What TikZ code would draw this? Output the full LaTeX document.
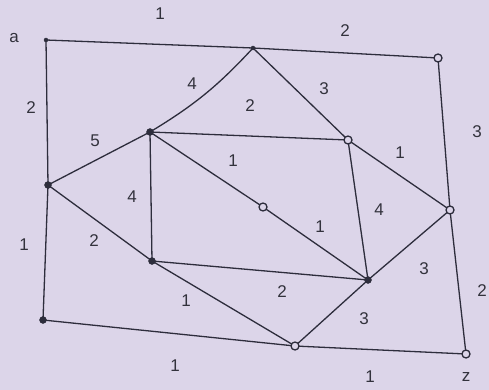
\documentclass[tikz,border=0pt]{standalone}
\usepackage{fontspec}
\setmainfont{Liberation Sans}
\begin{document}
\begin{tikzpicture}[x=1pt,y=-1pt,
  edge/.style={draw=linec,line width=1.3pt},
  full/.style={circle,fill=linec,draw=linec,inner sep=0pt,minimum size=7pt},
  small/.style={circle,fill=linec,draw=linec,inner sep=0pt,minimum size=4pt},
  hollow/.style={circle,draw=linec,fill=bg,line width=1.3pt,inner sep=0pt,minimum size=8pt},
  wt/.style={text=textc,font=\fontsize{17}{17}\selectfont}]
\definecolor{bg}{RGB}{220,213,233}
\definecolor{linec}{RGB}{45,45,60}
\definecolor{textc}{RGB}{50,50,60}
\fill[bg] (0,0) rectangle (489,390);
\useasboundingbox (0,0) rectangle (489,390);
% node positions
\coordinate (a)  at (46,40);
\coordinate (T)  at (253,48);
\coordinate (TR) at (438,58);
\coordinate (C1) at (150,132);
\coordinate (C2) at (348,140);
\coordinate (L)  at (48,185);
\coordinate (M)  at (263,207);
\coordinate (R)  at (450,210);
\coordinate (D1) at (152,261);
\coordinate (D2) at (368,280);
\coordinate (BL) at (43,320);
\coordinate (B)  at (295,346);
\coordinate (z)  at (466,354);
% edges
\draw[edge] (a) -- (T);
\draw[edge] (T) -- (TR);
\draw[edge] (a) -- (L);
\draw[edge] (T) to[bend left=8] (C1);
\draw[edge] (T) -- (C2);
\draw[edge] (C1) -- (C2);
\draw[edge] (TR) -- (R);
\draw[edge] (C2) -- (R);
\draw[edge] (C1) -- (L);
\draw[edge] (C1) -- (M);
\draw[edge] (C1) -- (D1);
\draw[edge] (L) -- (D1);
\draw[edge] (L) -- (BL);
\draw[edge] (M) -- (D2);
\draw[edge] (C2) -- (D2);
\draw[edge] (R) -- (D2);
\draw[edge] (R) -- (z);
\draw[edge] (D1) -- (D2);
\draw[edge] (D1) -- (B);
\draw[edge] (D2) -- (B);
\draw[edge] (BL) -- (B);
\draw[edge] (B) -- (z);
% vertices
\node[small]  (na)  at (a) {};
\node[small]  (nT)  at (T) {};
\node[hollow] (nTR) at (TR) {};
\node[full]   (nC1) at (C1) {};
\node[hollow] (nC2) at (C2) {};
\node[full]   (nL)  at (L) {};
\node[hollow] (nM)  at (M) {};
\node[hollow] (nR)  at (R) {};
\node[full]   (nD1) at (D1) {};
\node[full]   (nD2) at (D2) {};
\node[full]   (nBL) at (BL) {};
\node[hollow] (nB)  at (B) {};
\node[hollow] (nz)  at (z) {};
% labels
\node[wt] (la) at (14,38) {a};
\node[wt] (lz) at (466,377) {z};
\node[wt] (w1) at (160,14) {1};
\node[wt] (w2) at (345,31) {2};
\node[wt] (w3) at (31,108) {2};
\node[wt] (w4) at (192,84) {4};
\node[wt] (w5) at (324,89) {3};
\node[wt] (w6) at (250,106) {2};
\node[wt] (w7) at (477,132) {3};
\node[wt] (w8) at (400,153) {1};
\node[wt] (w9) at (95,141) {5};
\node[wt] (w10) at (233,161) {1};
\node[wt] (w11) at (132,197) {4};
\node[wt] (w12) at (94,241) {2};
\node[wt] (w13) at (24,245) {1};
\node[wt] (w14) at (320,227) {1};
\node[wt] (w15) at (379,210) {4};
\node[wt] (w16) at (424,269) {3};
\node[wt] (w17) at (482,291) {2};
\node[wt] (w18) at (282,292) {2};
\node[wt] (w19) at (186,301) {1};
\node[wt] (w20) at (364,319) {3};
\node[wt] (w21) at (175,366) {1};
\node[wt] (w22) at (370,377) {1};
\end{tikzpicture}
\end{document}
